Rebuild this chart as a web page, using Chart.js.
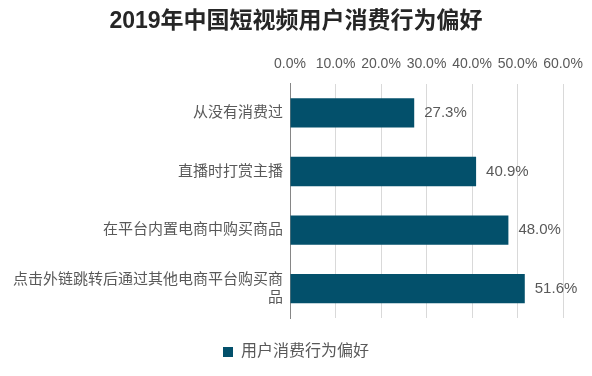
<!DOCTYPE html>
<html>
<head>
<meta charset="utf-8">
<script src="https://cdn.jsdelivr.net/npm/chart.js@4"></script>
<style>
  body { margin: 0; background: #fff; }
</style>
</head>
<body>
<canvas id="myChart" width="592" height="376"></canvas>
<script>
// data
var categories = ["从没有消费过", "直播时打赏主播", "在平台内置电商中购买商品", ["点击外链跳转后通过其他电商平台购买商", "品"]];
var values = [27.3, 40.9, 48.0, 51.6];
var seriesName = "用户消费行为偏好";
var tickMax = 60;
var tickStep = 10;

var fontFamily = "'Liberation Sans', 'Noto Sans CJK SC', sans-serif";
var barColor = "#03506B";
var textColor = "#595959";

// value labels after each bar
var valueLabels = {
  id: "valueLabels",
  afterDatasetsDraw: function (chart) {
    var ctx = chart.ctx;
    var meta = chart.getDatasetMeta(0);
    ctx.save();
    ctx.font = "15px " + fontFamily;
    ctx.fillStyle = textColor;
    ctx.textAlign = "left";
    ctx.textBaseline = "middle";
    meta.data.forEach(function (bar, i) {
      ctx.fillText(values[i].toFixed(1) + "%", bar.x + 10, bar.y);
    });
    ctx.restore();
  }
};

var ctx = document.getElementById("myChart");
var myChart = new Chart(ctx, {
  type: "bar",
  data: {
    labels: categories,
    datasets: [{
      label: seriesName,
      data: values,
      backgroundColor: barColor,
      borderWidth: 0,
      categoryPercentage: 1,
      barPercentage: 0.5
    }]
  },
  plugins: [valueLabels],
  options: {
    indexAxis: "y",
    responsive: false,
    animation: false,
    layout: { padding: { left: 0, right: 0, top: 0, bottom: 6 } },
    scales: {
      x: {
        position: "top",
        min: 0,
        max: tickMax,
        ticks: {
          stepSize: tickStep,
          padding: 11,
          color: textColor,
          font: { family: fontFamily, size: 14 },
          callback: function (v) { return v.toFixed(1) + "%"; }
        },
        grid: { color: "#d9d9d9", drawTicks: false },
        border: { display: false },
        afterFit: function (s) {
          s.height = 48;
          s.paddingRight = 29;
        }
      },
      y: {
        ticks: {
          padding: 7,
          color: textColor,
          font: { family: fontFamily, size: 15 }
        },
        grid: { display: false, drawTicks: false },
        border: { display: true, color: "#868686", width: 1 },
        afterFit: function (s) { s.width = 290; }
      }
    },
    plugins: {
      title: {
        display: true,
        text: "2019年中国短视频用户消费行为偏好",
        color: "#262626",
        font: { family: fontFamily, size: 23, weight: "bold" },
        padding: { top: 8, bottom: 0 }
      },
      legend: {
        position: "bottom",
        labels: {
          boxWidth: 10,
          boxHeight: 10,
          padding: 26,
          color: textColor,
          font: { family: fontFamily, size: 16 }
        }
      },
      tooltip: { enabled: false }
    }
  }
});
</script>
</body>
</html>
